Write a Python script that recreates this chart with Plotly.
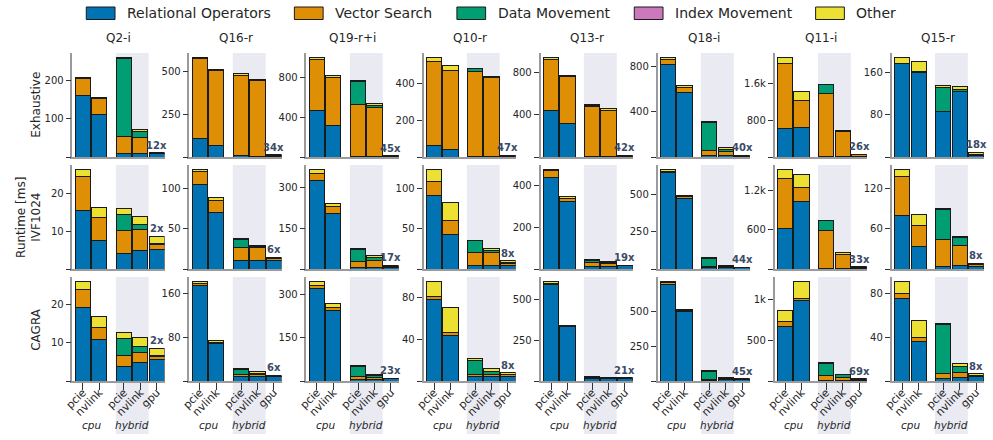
import plotly.graph_objects as go

# ---------------- data ----------------
QUERIES = ["Q2-i", "Q16-r", "Q19-r+i", "Q10-r", "Q13-r", "Q18-i", "Q11-i", "Q15-r"]
ROW_NAMES = ["Exhaustive", "IVF1024", "CAGRA"]
BAR_LABELS = ["pcie", "nvlink", "pcie", "nvlink", "gpu"]
GROUP_LABELS = ["cpu", "hybrid"]
SERIES = ["Relational Operators", "Vector Search", "Data Movement", "Index Movement", "Other"]

# Exhaustive  (per query: cpu-pcie, cpu-nvlink, hybrid-pcie, hybrid-nvlink, gpu)
EXH_REL = [[161, 111, 9, 9, 10], [108, 65, 6, 5, 3], [467, 319, 10, 8, 5], [64, 40, 2, 2, 3],
           [441, 314, 3, 3, 6], [823, 573, 15, 12, 8], [618, 647, 5, 5, 20], [176, 160, 85, 123, 2]]
EXH_VEC = [[45, 42, 46, 42, 0.5], [464, 441, 466, 438, 8], [508, 481, 518, 486, 6], [455, 431, 464, 429, 5],
           [485, 447, 478, 441, 6], [44, 45, 41, 41, 4], [1403, 589, 1376, 540, 25], [1, 2, 1, 1, 1]]
EXH_DATA = [[0, 0, 203, 17, 0], [0, 0, 5, 1, 0], [0, 0, 231, 23, 0], [0, 0, 13, 0, 0],
            [0, 0, 3, 0, 0], [0, 0, 253, 15, 0], [0, 0, 189, 0, 0], [0, 0, 46, 4, 1]]
EXH_IDX = [[0, 0, 0, 0, 0] for _ in range(8)]
EXH_OTH = [[3, 3, 2, 4, 1], [5, 4, 8, 6, 3], [16, 17, 3, 14, 2], [18, 26, 3, 6, 2],
           [12, 9, 12, 12, 4], [12, 15, 6, 18, 3], [131, 182, 15, 29, 13], [10, 18, 3, 5, 5]]

# IVF1024
IVF_REL = [[15.5, 7.6, 4.0, 4.8, 5.2], [105, 69.6, 10, 10, 10], [325, 205, 6, 6, 6], [91, 43, 4, 4, 4],
           [440, 325, 14, 13, 16], [646, 475, 11, 10, 7], [623, 1040, 5, 5, 10], [80, 34, 3.5, 4.5, 3.5]]
IVF_VEC = [[9.1, 6.0, 6.3, 5.8, 1.3], [16, 15.8, 16.7, 17, 3], [27, 23, 22, 27, 4], [18, 17, 17, 17, 3],
           [30, 13, 16, 14, 1], [12, 13, 3, 3, 1], [762, 217, 587, 211, 15], [57, 30, 40.5, 30, 3]]
IVF_DATA = [[0, 0, 4.3, 1.2, 0.3], [0, 0, 9.6, 1, 0], [0, 0, 42, 9, 0], [0, 0, 14, 2.5, 1],
            [0, 0, 12, 2, 0], [0, 0, 58, 4, 0], [0, 0, 150, 6, 0], [0, 0, 45, 12, 0]]
IVF_IDX = [[0, 0, 0, 0, 0] for _ in range(8)]
IVF_OTH = [[1.8, 2.8, 1.6, 2.3, 1.9], [2, 3, 1.2, 1.6, 1.6], [12, 14, 4, 6, 3], [14, 23, 1, 2.5, 2],
           [5, 8, 4, 5, 1], [8, 9, 4, 8, 3], [134, 190, 8, 30, 11], [10, 17, 1, 1, 2]]

# CAGRA
CAG_REL = [[19.1, 10.9, 3.9, 4.9, 5.5], [175, 68, 9, 9, 8], [321, 242, 6, 5, 8], [78.4, 43.8, 4.2, 4, 4],
           [595, 334, 14, 13, 17], [697, 501, 7, 8, 12], [667, 992, 10, 10, 10], [75.3, 36, 2.7, 3, 4]]
CAG_VEC = [[4.8, 3.0, 2.8, 2.6, 0.9], [4, 3, 3, 3, 1], [10, 11, 9, 8, 1], [2.6, 2.9, 1.8, 2.4, 2],
           [5, 4, 5, 3, 1], [12, 10, 3, 2, 1], [62, 24, 52, 27, 7], [4.3, 4, 4.3, 4.6, 1]]
CAG_DATA = [[0, 0, 4.5, 1.4, 0.4], [0, 0, 10, 2, 0], [0, 0, 36, 7, 0], [0, 0, 13.5, 2.6, 0],
            [0, 0, 2, 0, 0], [0, 0, 60, 10, 0], [0, 0, 152, 37, 0], [0, 0, 44.2, 5.4, 0]]
CAG_IDX = [[0, 0, 0, 0, 0] for _ in range(8)]
CAG_OTH = [[2.0, 2.9, 1.6, 2.6, 1.8], [3, 3, 1, 3, 2], [11, 14, 4, 3, 1], [13.7, 23.7, 1.9, 3, 2],
           [10, 6, 8, 5, 1], [7, 9, 5, 7, 2], [135, 202, 8, 8, 8], [10.7, 15.5, 1.6, 3, 1.4]]

SPEEDUP_EXH = ["12x", "34x", "45x", "47x", "42x", "40x", "26x", "18x"]
SPEEDUP_IVF = ["2x", "6x", "17x", "8x", "19x", "44x", "33x", "8x"]
SPEEDUP_CAG = ["2x", "6x", "23x", "8x", "21x", "45x", "69x", "8x"]

YTICKS_EXH = [[100, 200], [250, 500], [400, 800], [200, 400], [400, 800], [400, 800], [800, 1600], [80, 160]]
YTEXT_EXH = [["100", "200"], ["250", "500"], ["400", "800"], ["200", "400"], ["400", "800"], ["400", "800"], ["800", "1.6k"], ["80", "160"]]
YTICKS_IVF = [[10, 20], [50, 100], [150, 300], [50, 100], [200, 400], [250, 500], [600, 1200], [60, 120]]
YTEXT_IVF = [["10", "20"], ["50", "100"], ["150", "300"], ["50", "100"], ["200", "400"], ["250", "500"], ["600", "1.2k"], ["60", "120"]]
YTICKS_CAG = [[10, 20], [80, 160], [150, 300], [40, 80], [250, 500], [250, 500], [500, 1000], [40, 80]]
YTEXT_CAG = [["10", "20"], ["80", "160"], ["150", "300"], ["40", "80"], ["250", "500"], ["250", "500"], ["500", "1k"], ["40", "80"]]

ROWS = [
    (EXH_REL, EXH_VEC, EXH_DATA, EXH_IDX, EXH_OTH, SPEEDUP_EXH, YTICKS_EXH, YTEXT_EXH),
    (IVF_REL, IVF_VEC, IVF_DATA, IVF_IDX, IVF_OTH, SPEEDUP_IVF, YTICKS_IVF, YTEXT_IVF),
    (CAG_REL, CAG_VEC, CAG_DATA, CAG_IDX, CAG_OTH, SPEEDUP_CAG, YTICKS_CAG, YTEXT_CAG),
]

# ---------------- style / layout ----------------
COLORS = ["#0173b2", "#de8f05", "#029e73", "#cc78bc", "#ece133"]
BAR_POS = [0, 1, 2.5, 3.5, 4.5]
GROUP_POS = [0.5, 3.0]
SHADE = (2.0, 4.0)
FONT = "DejaVu Sans"
W, H = 993, 440


def fx(px):
    return px / W


def fy(py):
    return 1 - py / H


COL_LEFT = [64 + c * 118.1 for c in range(8)]
COL_W = 93
ROW_TOP = [53, 165, 277]
ROW_H = 104

fig = go.Figure()
layout = dict(
    width=W, height=H, margin=dict(l=0, r=0, t=0, b=0),
    barmode="stack", showlegend=False,
    paper_bgcolor="white", plot_bgcolor="rgba(0,0,0,0)",
    font=dict(family=FONT, color="#262626"),
)
annotations = []
shapes = []

for r, (rel, vec, dat, idx, oth, spd, yt, ytt) in enumerate(ROWS):
    for c in range(8):
        k = r * 8 + c + 1
        xs = "x" if k == 1 else f"x{k}"
        ys = "y" if k == 1 else f"y{k}"
        series_vals = [rel[c], vec[c], dat[c], idx[c], oth[c]]
        for s, vals in enumerate(series_vals):
            fig.add_trace(go.Bar(
                x=BAR_POS, y=vals, name=SERIES[s], xaxis=xs, yaxis=ys,
                width=0.92, marker=dict(color=COLORS[s], line=dict(color="#1a1a1a", width=1)),
                showlegend=False,
            ))
        totals = [sum(v[i] for v in series_vals) for i in range(5)]
        ymax = max(totals) * 1.05
        left = COL_LEFT[c]
        top = ROW_TOP[r]
        xa = dict(
            domain=[fx(left), fx(left + COL_W)], range=[-0.64, 4.97], anchor=ys,
            showline=True, linecolor="#9a9a9a", linewidth=1.6, showgrid=False, zeroline=False,
        )
        if r == 2:
            xa.update(tickmode="array", tickvals=BAR_POS, ticktext=BAR_LABELS, tickangle=-45,
                      ticks="outside", ticklen=7, tickwidth=1.3, tickcolor="#333",
                      ticklabelstandoff=-8,
                      tickfont=dict(size=11, color="#262626"))
        else:
            xa.update(showticklabels=False, ticks="")
        ya = dict(
            domain=[fy(top + ROW_H), fy(top)], range=[0, ymax], anchor=xs,
            tickmode="array", tickvals=[0] + yt[c], ticktext=[""] + ytt[c],
            ticks="outside", ticklen=5, tickwidth=1.3, tickcolor="#333",
            tickfont=dict(size=10, color="#262626"),
            showline=True, linecolor="#9a9a9a", linewidth=1.6, showgrid=False, zeroline=False,
        )
        layout["xaxis" if k == 1 else f"xaxis{k}"] = xa
        layout["yaxis" if k == 1 else f"yaxis{k}"] = ya

        # hybrid shading
        if r < 2:
            shapes.append(dict(type="rect", xref=xs, yref=f"{ys} domain", x0=SHADE[0], x1=SHADE[1],
                               y0=0, y1=1, fillcolor="#eaeaf2", line=dict(width=0), layer="below"))
        else:
            shapes.append(dict(type="rect", xref=xs, yref="paper", x0=SHADE[0], x1=SHADE[1],
                               y0=fy(434), y1=fy(top), fillcolor="#eaeaf2", line=dict(width=0), layer="below"))
            for g, gp in zip(GROUP_LABELS, GROUP_POS):
                annotations.append(dict(text=f"<i>{g}</i>", xref=xs, yref="paper", x=gp, y=fy(425),
                                        xanchor="center", yanchor="middle",
                                        showarrow=False, font=dict(size=10.5, color="#262626")))

        # speedup label
        annotations.append(dict(text=f"<b>{spd[c]}</b>", xref=xs, yref=ys, x=BAR_POS[4], y=totals[4],
                                xanchor="center", yanchor="bottom", yshift=0, showarrow=False,
                                font=dict(size=10, color="#3b4b66")))

        # column titles
        if r == 0:
            annotations.append(dict(text=QUERIES[c], xref="paper", yref="paper",
                                    x=fx(left + COL_W / 2), y=fy(38), xanchor="center", yanchor="middle",
                                    showarrow=False, font=dict(size=12, color="#262626")))

# row labels
ROW_LABEL_SPECS = [(ROW_NAMES[0], 27, 105), ("Runtime [ms]", 12, 217), (ROW_NAMES[1], 27, 217), (ROW_NAMES[2], 27, 329)]
for txt, px, py in ROW_LABEL_SPECS:
    annotations.append(dict(text=txt, xref="paper", yref="paper", x=fx(px), y=fy(py),
                            xanchor="center", yanchor="middle",
                            textangle=-90, showarrow=False, font=dict(size=12)))

# legend (drawn manually)
LEG_X = [78, 288, 452, 631, 814]
for s, lx in enumerate(LEG_X):
    shapes.append(dict(type="rect", xref="paper", yref="paper", x0=fx(lx), x1=fx(lx + 29),
                       y0=fy(19.5), y1=fy(7), fillcolor=COLORS[s], line=dict(color="#1a1a1a", width=1)))
    annotations.append(dict(text=SERIES[s], xref="paper", yref="paper", x=fx(lx + 39), y=fy(13.5),
                            xanchor="left", yanchor="middle", showarrow=False,
                            font=dict(size=14, color="#262626")))

layout["annotations"] = annotations
layout["shapes"] = shapes
fig.update_layout(**layout)
fig.write_html("out.html")
